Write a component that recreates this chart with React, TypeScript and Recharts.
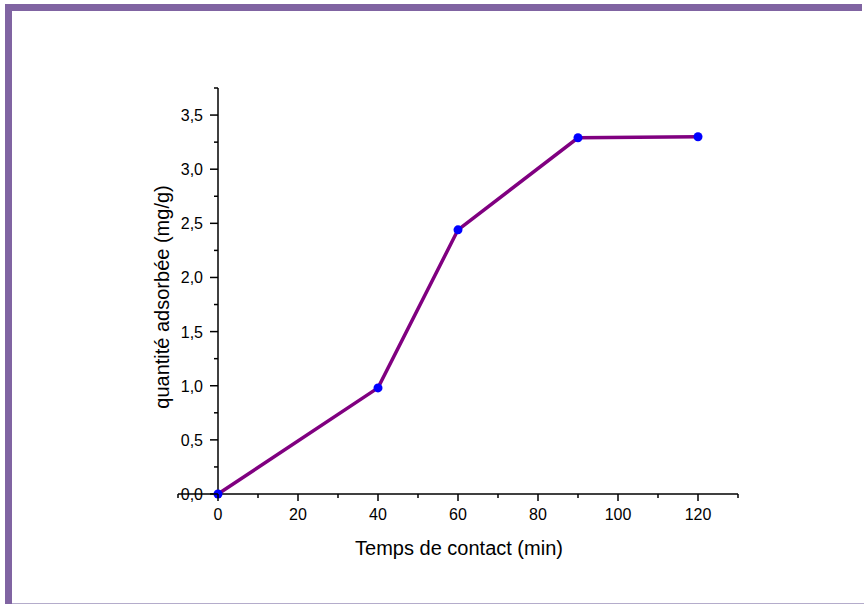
import React from "react";
import { LineChart, Line, XAxis, YAxis, ReferenceLine, Label } from "recharts";

// Contact time (min) and amount adsorbed (mg/g)
const times = [0, 40, 60, 90, 120];
const adsorbed = [0, 0.98, 2.44, 3.29, 3.3];

// Axis ticks: majors carry labels, minors are bare marks
const xTicks = [0, 10, 20, 30, 40, 50, 60, 70, 80, 90, 100, 110, 120, 130];
const yTicks = [0, 0.25, 0.5, 0.75, 1, 1.25, 1.5, 1.75, 2, 2.25, 2.5, 2.75, 3, 3.25, 3.5, 3.75];

const xTitle = "Temps de contact (min)";
const yTitle = "quantité adsorbée (mg/g)";

const data = times.map((t, i) => ({ t, q: adsorbed[i] }));

const FONT = "'Liberation Sans', Arial, sans-serif";
const PURPLE_FRAME = "#8064A2";

const XTick = (props: any) => {
  const { x, y, payload } = props;
  const major = payload.value % 20 === 0;
  return (
    <g>
      <line x1={x} x2={x} y1={y} y2={y + (major ? 7 : 4)} stroke="#000" strokeWidth={1.5} />
      {major && (
        <text x={x} y={y + 26} textAnchor="middle" fontSize={16} fill="#000" fontFamily={FONT}>
          {payload.value}
        </text>
      )}
    </g>
  );
};

const YTick = (props: any) => {
  const { x, y, payload } = props;
  const v = payload.value as number;
  const major = Math.abs(v * 2 - Math.round(v * 2)) < 1e-9;
  return (
    <g>
      <line x1={x} x2={x - (major ? 8 : 4)} y1={y} y2={y} stroke="#000" strokeWidth={1.5} />
      {major && (
        <text x={x - 15} y={y + 6} textAnchor="end" fontSize={16} fill="#000" fontFamily={FONT}>
          {v.toFixed(1).replace(".", ",")}
        </text>
      )}
    </g>
  );
};

const XTitle = (props: any) => {
  const { viewBox } = props;
  return (
    <text
      x={viewBox.x + viewBox.width / 2 - 19}
      y={viewBox.y + 61}
      textAnchor="middle"
      fontSize={20}
      fill="#000"
      fontFamily={FONT}
    >
      {xTitle}
    </text>
  );
};

const YTitle = (props: any) => {
  const { viewBox } = props;
  const cx = viewBox.x + 4;
  const cy = viewBox.y + viewBox.height / 2 + 6;
  return (
    <text
      x={cx}
      y={cy}
      transform={`rotate(-90 ${cx} ${cy})`}
      textAnchor="middle"
      dominantBaseline="central"
      fontSize={20}
      fill="#000"
      fontFamily={FONT}
    >
      {yTitle}
    </text>
  );
};

export default function App() {
  return (
    <div
      style={{
        position: "absolute",
        left: 0,
        top: 0,
        width: 864,
        height: 604,
        background: "#fff",
        fontFamily: FONT,
        overflow: "hidden",
      }}
    >
      {/* frame */}
      <div style={{ position: "absolute", left: 5, top: 4, width: 857, height: 7, background: PURPLE_FRAME }} />
      <div style={{ position: "absolute", left: 5, top: 4, width: 7, height: 600, background: PURPLE_FRAME }} />
      <div style={{ position: "absolute", left: 12, top: 603, width: 852, height: 1, background: "#B4ACCB" }} />

      <div style={{ position: "absolute", left: 0, top: 0 }}>
        <LineChart
          width={864}
          height={604}
          data={data}
          margin={{ top: 88, right: 126, left: 158, bottom: 50 }}
        >
          <XAxis
            dataKey="t"
            type="number"
            domain={[0, 130]}
            ticks={xTicks}
            interval={0}
            tickSize={0}
            tickMargin={0}
            tickLine={false}
            axisLine={{ stroke: "#000", strokeWidth: 1.5 }}
            tick={<XTick />}
            height={60}
          >
            <Label content={<XTitle />} />
          </XAxis>
          <YAxis
            type="number"
            domain={[0, 3.75]}
            ticks={yTicks}
            interval={0}
            tickSize={0}
            tickMargin={0}
            tickLine={false}
            axisLine={{ stroke: "#000", strokeWidth: 1.5 }}
            tick={<YTick />}
            width={60}
          >
            <Label content={<YTitle />} />
          </YAxis>
          {/* x axis continues left of the y axis down to -10 */}
          <ReferenceLine
            segment={[
              { x: -10, y: 0 },
              { x: 0, y: 0 },
            ]}
            ifOverflow="visible"
            stroke="#000"
            strokeWidth={1.5}
          />
          <ReferenceLine
            segment={[
              { x: -10, y: 0 },
              { x: -10, y: -0.037 },
            ]}
            ifOverflow="visible"
            stroke="#000"
            strokeWidth={1.5}
          />
          <Line
            type="linear"
            dataKey="q"
            stroke="#800080"
            strokeWidth={3.5}
            dot={{ r: 4.5, fill: "#0000FF", stroke: "none" }}
            isAnimationActive={false}
          />
        </LineChart>
      </div>
    </div>
  );
}
